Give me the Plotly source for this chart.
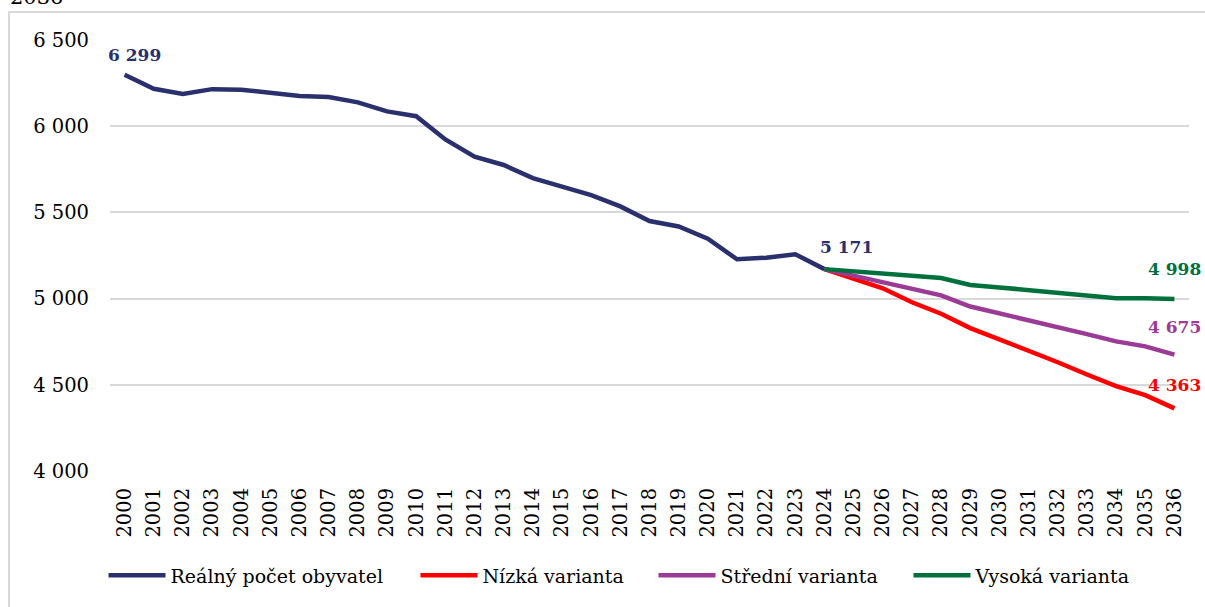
import plotly.graph_objects as go

years = list(range(2000, 2037))
real_years = list(range(2000, 2025))
real_values = [6299, 6217, 6187, 6215, 6212, 6192, 6175, 6169, 6138, 6086, 6058,
               5923, 5823, 5775, 5699, 5650, 5600, 5535, 5450, 5418, 5347,
               5228, 5237, 5257, 5171]
proj_years = list(range(2024, 2037))
low_values = [5171, 5114, 5060, 4979, 4912, 4829, 4765, 4698, 4631, 4560, 4492, 4440, 4363]
mid_values = [5171, 5133, 5098, 5056, 5019, 4954, 4915, 4877, 4838, 4794, 4752, 4723, 4675]
high_values = [5171, 5160, 5149, 5133, 5119, 5079, 5065, 5050, 5035, 5015, 5002, 5002, 4998]

series_names = ["Reálný počet obyvatel", "Nízká varianta", "Střední varianta", "Vysoká varianta"]
colors = ["#2a2f6e", "#ff0000", "#9b3b96", "#00703c"]
y_ticks = [4000, 4500, 5000, 5500, 6000, 6500]
header_text = "2036"

FONT = "DejaVu Serif"
LW = 4.5

legend_ids = ["legend", "legend2", "legend3", "legend4"]
legend_x = [-0.006, 0.2831, 0.5037, 0.740]

fig = go.Figure()
series = [(real_years, real_values), (proj_years, low_values),
          (proj_years, mid_values), (proj_years, high_values)]
for i, (xs, ys) in enumerate(series):
    fig.add_trace(go.Scatter(x=xs, y=ys, mode="lines", name=series_names[i],
                             legend=legend_ids[i], hoverinfo="skip",
                             line=dict(color=colors[i], width=LW)))

def fmt(v):
    return f"{v:,}".replace(",", " ")

labels = [
    (real_years[0], real_values[0], colors[0], 10, 20),
    (real_years[-1], real_values[-1], colors[0], 22, 22),
    (proj_years[-1], high_values[-1], colors[3], 0, 30),
    (proj_years[-1], mid_values[-1], colors[2], 0, 28),
    (proj_years[-1], low_values[-1], colors[1], 0, 23),
]
for x, y, c, xs, ys in labels:
    fig.add_annotation(x=x, y=y, text=f"<b>{fmt(y)}</b>", showarrow=False,
                       xanchor="center", yanchor="middle", xshift=xs, yshift=ys,
                       font=dict(family=FONT, size=17, color=c))

# clipped header text at the top
fig.add_annotation(xref="paper", yref="paper", x=-0.0945, y=1.067, text=header_text,
                   showarrow=False, xanchor="left", yanchor="bottom",
                   font=dict(family=FONT, size=21, color="#000000"))

# outer chart border
fig.add_shape(type="rect", xref="paper", yref="paper", x0=-0.0936, x1=1.03, y0=-0.4, y1=1.0647,
              line=dict(color="#d9d9d9", width=2), fillcolor="rgba(0,0,0,0)", layer="below")

leg_common = dict(orientation="h", y=-0.2425, xanchor="left", yanchor="middle",
                  font=dict(family=FONT, size=19, color="#000000"),
                  itemwidth=57, bgcolor="rgba(0,0,0,0)")
legend_layout = {lid: dict(x=lx, **leg_common) for lid, lx in zip(legend_ids, legend_x)}

fig.update_layout(
    width=1205, height=607,
    margin=dict(l=110, r=16, t=40, b=134),
    paper_bgcolor="white", plot_bgcolor="white",
    separators=", ",
    font=dict(family=FONT, size=19, color="#000000"),
    showlegend=True,
    hovermode=False,
    xaxis=dict(range=[1999.5, 2036.5], tickmode="array", tickvals=years,
               ticktext=[str(y) for y in years], tickangle=-90, showgrid=False,
               showline=False, zeroline=False, ticks="", ticklabelstandoff=12,
               tickfont=dict(family=FONT, size=19.5, color="#000000")),
    yaxis=dict(range=[4000, 6500], tickvals=y_ticks, tickformat=",d", showgrid=True,
               gridcolor="#d9d9d9", gridwidth=2, zeroline=False, showline=False,
               ticks="", ticklabelstandoff=20,
               tickfont=dict(family=FONT, size=19.5, color="#000000")),
    **legend_layout,
)

fig.write_html("out.html", config={"displayModeBar": False},
               post_script="document.body.style.margin='0';")
